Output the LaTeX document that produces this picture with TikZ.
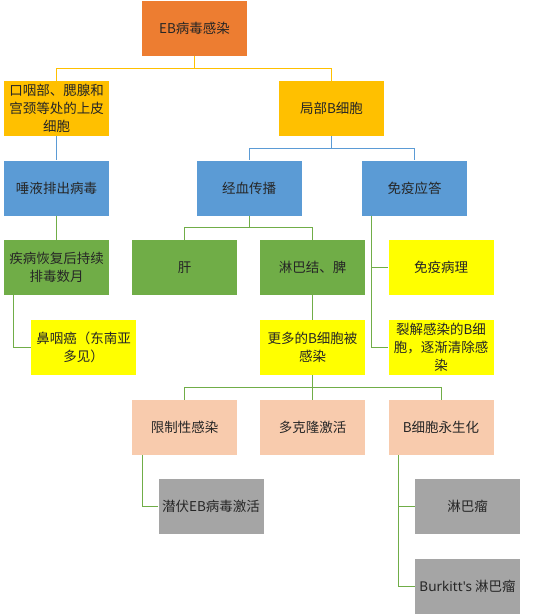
\documentclass[tikz,border=0pt]{standalone}
\usepackage{fontspec}
\setmainfont{Noto Sans CJK SC}
\newfontfamily\latinfont{Noto Sans}
\definecolor{ebor}{HTML}{ED7D31}
\definecolor{gold}{HTML}{FFC000}
\definecolor{sky}{HTML}{5B9BD5}
\definecolor{leaf}{HTML}{70AD47}
\definecolor{lemon}{HTML}{FFFF00}
\definecolor{peach}{HTML}{F8CBAD}
\definecolor{ash}{HTML}{A5A5A5}
\definecolor{ink}{HTML}{262626}

\begin{document}
\begin{tikzpicture}[x=1pt,y=-1pt,
  box/.style={minimum width=105pt,minimum height=55pt,inner sep=1pt,align=center,text=ink,
    font=\fontsize{13.5}{18}\selectfont},
  goldline/.style={draw=gold,line width=0.8pt},
  skyline/.style={draw=sky,line width=0.8pt},
  leafline/.style={draw=leaf,line width=0.8pt}]
\useasboundingbox (0,0) rectangle (554,615);

\node [box,fill=ebor] (eb) at (194.5,28.5) {EB病毒感染};
\node [box,fill=gold] (kouyan) at (56.5,108.5) {口咽部、腮腺和\\宫颈等处的上皮\\细胞};
\node [box,fill=gold] (jubu) at (331.5,108.5) {局部B细胞};
\node [box,fill=sky] (tuoye) at (56.5,188) {唾液排出病毒};
\node [box,fill=sky] (jingxue) at (249,188) {经血传播};
\node [box,fill=sky] (mianyi) at (414.5,188) {免疫应答};
\node [box,fill=leaf] (jibing) at (56.5,267.5) {疾病恢复后持续\\排毒数月};
\node [box,fill=leaf] (gan) at (184.5,267.5) {肝};
\node [box,fill=leaf] (linba) at (312.5,267.5) {淋巴结、脾};
\node [box,fill=lemon] (bingli) at (441,267.5) {免疫病理};
\node [box,fill=lemon] (biyan) at (83.5,347.5) {鼻咽癌（东南亚\\多见）};
\node [box,fill=lemon] (gengduo) at (312.5,347.5) {更多的B细胞被\\感染};
\node [box,fill=lemon] (liejie) at (441,347.5) {裂解感染的B细\\胞，逐渐清除感\\染};
\node [box,fill=peach] (xianzhi) at (184.5,427.5) {限制性感染};
\node [box,fill=peach] (duoke) at (312.5,427.5) {多克隆激活};
\node [box,fill=peach] (yongsheng) at (441,427.5) {B细胞永生化};
\node [box,fill=ash] (qianfu) at (211,506.5) {潜伏EB病毒激活};
\node [box,fill=ash] (linbaliu) at (467.5,506.5) {淋巴瘤};
\node [box,fill=ash] (burkitt) at (467.5,586) {{\latinfont Burkitt's} 淋巴瘤};

\draw [goldline] (eb.south) -- ++(0,12) -| (kouyan.north);
\draw [goldline] (eb.south) -- ++(0,12) -| (jubu.north);
\draw [skyline] (kouyan) -- (tuoye);
\draw [skyline] (jubu.south) -- ++(0,12) -| (jingxue.north);
\draw [skyline] (jubu.south) -- ++(0,12) -| (mianyi.north);
\draw [leafline] (tuoye) -- (jibing);
\draw [leafline] (jingxue.south) -- ++(0,12) -| (gan.north);
\draw [leafline] (jingxue.south) -- ++(0,12) -| (linba.north);
\draw [leafline] (mianyi.south west) ++(10,0) |- (bingli.west);
\draw [leafline] (mianyi.south west) ++(10,0) |- (liejie.west);
\draw [leafline] (jibing.south west) ++(10,0) |- (biyan.west);
\draw [leafline] (linba) -- (gengduo);
\draw [leafline] (gengduo.south) -- ++(0,12) -| (xianzhi.north);
\draw [leafline] (gengduo) -- (duoke);
\draw [leafline] (gengduo.south) -- ++(0,12) -| (yongsheng.north);
\draw [leafline] (xianzhi.south west) ++(11,0) |- (qianfu.west);
\draw [leafline] (yongsheng.south west) ++(10,0) |- (linbaliu.west);
\draw [leafline] (yongsheng.south west) ++(10,0) |- (burkitt.west);
\end{tikzpicture}
\end{document}
